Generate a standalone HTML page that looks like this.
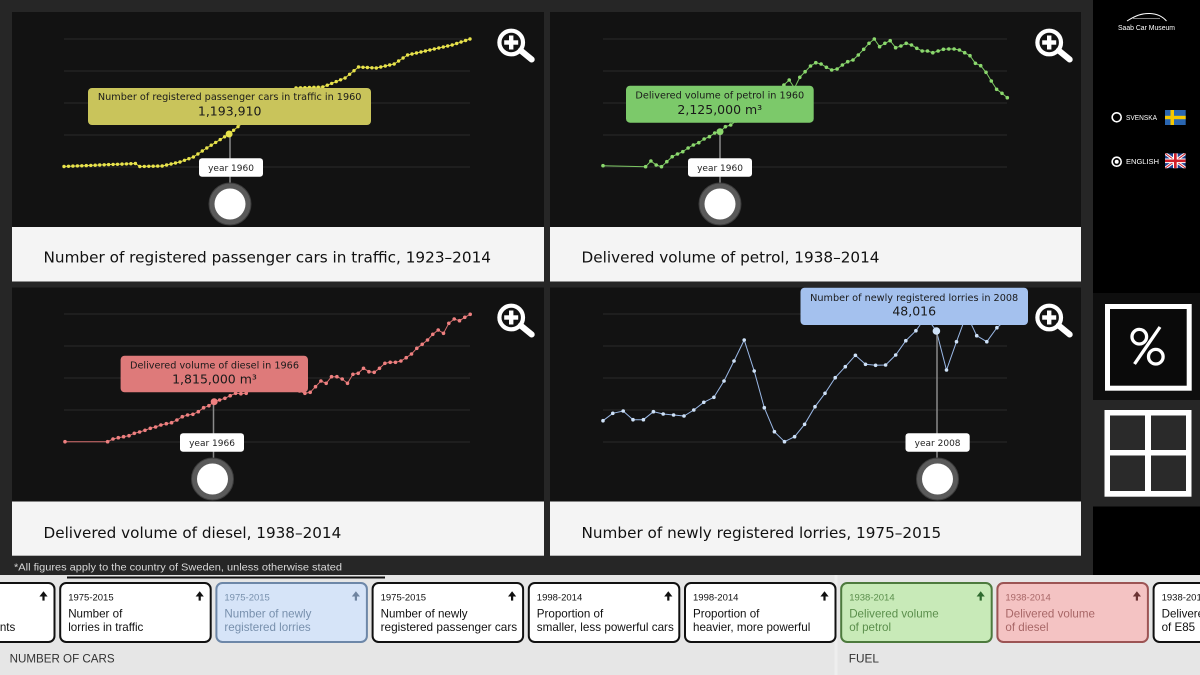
<!DOCTYPE html>
<html><head><meta charset="utf-8"><style>
html,body{margin:0;padding:0;background:#262626;}
svg{display:block;}
.dj{font-family:"DejaVu Sans","Liberation Sans",sans-serif;}
.ls{font-family:"Liberation Sans",sans-serif;}
</style></head><body>
<svg width="1200" height="675" viewBox="0 0 1200 675" xmlns="http://www.w3.org/2000/svg">
<defs>
<g id="mag"><circle r="11.8" fill="none" stroke="#fff" stroke-width="4.2"/><rect x="-7" y="-2.2" width="14" height="4.4" fill="#fff"/><rect x="-2.2" y="-7" width="4.4" height="14" fill="#fff"/><line x1="9.5" y1="8" x2="20.5" y2="17" stroke="#fff" stroke-width="6" stroke-linecap="round"/></g>
<marker id="my" markerWidth="5" markerHeight="5" refX="2.5" refY="2.5" markerUnits="userSpaceOnUse"><circle cx="2.5" cy="2.5" r="1.7" fill="#e8e34c"/></marker>
<marker id="mg" markerWidth="5" markerHeight="5" refX="2.5" refY="2.5" markerUnits="userSpaceOnUse"><circle cx="2.5" cy="2.5" r="1.8" fill="#8bd86d"/></marker>
<marker id="mr" markerWidth="5" markerHeight="5" refX="2.5" refY="2.5" markerUnits="userSpaceOnUse"><circle cx="2.5" cy="2.5" r="1.8" fill="#ee8080"/></marker>
<marker id="mb" markerWidth="5" markerHeight="5" refX="2.5" refY="2.5" markerUnits="userSpaceOnUse"><circle cx="2.5" cy="2.5" r="1.8" fill="#cfe2f8"/></marker>
<clipPath id="ukc"><rect x="1165" y="153.3" width="20.7" height="15"/></clipPath>
</defs>

<!-- main background -->
<rect x="0" y="0" width="1200" height="675" fill="#262626"/>

<!-- panels -->
<rect x="12" y="12" width="532" height="215" fill="#121212"/>
<rect x="12" y="227" width="532" height="54.5" fill="#f4f4f4"/>
<rect x="550" y="12" width="531" height="215" fill="#121212"/>
<rect x="550" y="227" width="531" height="54.5" fill="#f4f4f4"/>
<rect x="12" y="287.5" width="532" height="214" fill="#121212"/>
<rect x="12" y="501.5" width="532" height="54.2" fill="#f4f4f4"/>
<rect x="550" y="287.5" width="531" height="214" fill="#121212"/>
<rect x="550" y="501.5" width="531" height="54.2" fill="#f4f4f4"/>

<!-- grid lines -->
<g stroke="#2b2b2b" stroke-width="1">
<line x1="64" y1="39" x2="470" y2="39"/><line x1="64" y1="71" x2="470" y2="71"/><line x1="64" y1="103" x2="470" y2="103"/><line x1="64" y1="135" x2="470" y2="135"/><line x1="64" y1="167" x2="470" y2="167"/>
<line x1="603" y1="39" x2="1007" y2="39"/><line x1="603" y1="71" x2="1007" y2="71"/><line x1="603" y1="103" x2="1007" y2="103"/><line x1="603" y1="135" x2="1007" y2="135"/><line x1="603" y1="167" x2="1007" y2="167"/>
<line x1="64" y1="314" x2="470" y2="314"/><line x1="64" y1="346" x2="470" y2="346"/><line x1="64" y1="378" x2="470" y2="378"/><line x1="64" y1="410" x2="470" y2="410"/><line x1="64" y1="442" x2="470" y2="442"/>
<line x1="603" y1="314" x2="1007" y2="314"/><line x1="603" y1="346" x2="1007" y2="346"/><line x1="603" y1="378" x2="1007" y2="378"/><line x1="603" y1="410" x2="1007" y2="410"/><line x1="603" y1="442" x2="1007" y2="442"/>
</g>

<!-- series: cars -->
<polyline fill="none" stroke="#dcd745" stroke-width="1" marker-start="url(#my)" marker-mid="url(#my)" marker-end="url(#my)" points="64,166.5 68.5,166.3 72.9,166.1 77.4,165.9 81.8,165.8 86.3,165.6 90.8,165.4 95.2,165.2 99.7,165 104.2,164.8 108.6,164.6 113.1,164.4 117.5,164.3 122,164.1 126.5,163.9 130.9,163.7 135.4,163.5 139.8,166.5 144.3,166.4 148.8,166.3 153.2,166.2 157.7,166.1 162.2,166 166.6,165 171.1,164 175.5,163 180,162 184.5,160.3 188.9,158.7 193.4,157 197.9,154 202.3,151 206.8,148 211.2,145.2 215.7,142.4 220.2,139.6 224.6,136.8 229.1,134 233.6,130.3 238,126.7 242.5,123 246.9,120.4 251.4,117.8 255.9,115.2 260.3,112.6 264.8,110 269.2,106.8 273.7,103.5 278.2,100.3 282.6,97 287.1,94 291.6,91 296,88 300.5,87.8 304.9,87.7 309.4,87.5 313.9,87.3 318.3,87.2 322.8,87 327.3,85.2 331.7,83.4 336.2,81.6 340.6,79.8 345.1,78 349.6,74.3 354,70.7 358.5,67 363,67.3 367.4,67.5 371.9,67.8 376.3,68 380.8,67 385.3,66 389.7,65 394.2,64 398.6,61 403.1,58 407.6,55 412,54 416.5,53 421,52 425.4,51 429.9,50 434.3,49 438.8,48 443.3,47 447.7,46 452.2,45 456.7,43.5 461.1,42 465.6,40.5 470,39"/>

<!-- series: petrol -->
<polyline fill="none" stroke="#7cc763" stroke-width="1" marker-start="url(#mg)" marker-mid="url(#mg)" marker-end="url(#mg)" points="603,165.7 645.6,166.7 650.9,161 656.2,165 661.5,166.7 666.8,161.7 672.2,156.7 677.5,154 682.8,151.7 688.1,148 693.4,145 698.8,142.7 704.1,139 709.4,136.7 714.7,133 720,131.7 725.4,126.7 730.7,125 736,121 741.3,117 746.6,113 752,109 757.3,105 762.6,101 767.9,97 773.2,93 778.6,89 783.9,85 789.2,80 794.5,88 799.8,77.3 805.1,71.7 810.5,66 815.8,62.7 821.1,64 826.4,67.3 831.7,70 837.1,69 842.4,65 847.7,61.7 853,60 858.3,55 863.7,49.3 869,43.3 874.3,39 879.6,46.7 884.9,43.3 890.2,40.7 895.6,47.7 900.9,46 906.2,43.3 911.5,45 916.8,48.3 922.2,51 927.5,51 932.8,52.7 938.1,51 943.4,49.3 948.8,49 954.1,49 959.4,50 964.7,52.7 970,55.7 975.4,63.3 980.7,65.7 986,72.3 991.3,81 996.6,89.3 1002,93.3 1007.3,97.7"/>

<!-- series: diesel -->
<polyline fill="none" stroke="#d86f6f" stroke-width="1" marker-start="url(#mr)" marker-mid="url(#mr)" marker-end="url(#mr)" points="65,441.7 107.6,441.7 113,439 118.3,437.7 123.6,436.7 129,435.7 134.3,433.3 139.6,432 145,430.3 150.3,428.3 155.6,427 160.9,425 166.3,423.7 171.6,422.7 176.9,420 182.3,416.7 187.6,415 192.9,414.3 198.3,411.7 203.6,407.7 208.9,405.7 214.2,401.7 219.6,400 224.9,398.3 230.2,395.7 235.6,393.3 240.9,393.7 246.2,393.3 251.6,389 256.9,390 262.2,389.3 267.6,389 272.9,387.7 278.2,387.7 283.6,384 288.9,387.3 294.2,390 299.6,391 304.9,393.3 310.2,392.3 315.5,386.7 320.9,381 326.2,383.3 331.5,376.7 336.9,376.7 342.2,379 347.5,383.3 352.9,374.3 358.2,373.3 363.5,368.3 368.9,371.7 374.2,372.3 379.5,368.3 384.9,363.3 390.2,362.3 395.5,362.3 400.9,361 406.2,357.7 411.5,354 416.8,348.3 422.2,344.3 427.5,340 432.8,334.3 438.2,330 443.5,333.3 448.8,323.3 454.2,319 459.5,320.7 464.8,317.3 470.2,314.3"/>

<!-- series: lorries -->
<polyline fill="none" stroke="#9ab8e6" stroke-width="1" marker-start="url(#mb)" marker-mid="url(#mb)" marker-end="url(#mb)" points="603,420.7 612.8,413.3 623.2,411 633,419.7 643.4,419.7 653.4,411.7 663.2,414 673.6,415 684,416 693.8,410 703.8,402.3 713.9,397.3 724,381 734,361 744.2,340 754.2,371 764.3,407.7 774.4,431.7 784.5,441.7 794.6,436.7 804.6,424.3 815,406.7 825,393.3 835.2,377.7 845.3,366.7 855.4,355.3 865.5,364.3 875.6,365.3 885.6,365 895.7,355 905.8,340.7 915.9,330.7 926,316.7 936.4,331 946.5,370 956.5,341.7 966.6,314.3 976.7,335.7 986.8,341.7 996.9,327.7 1007,319"/>

<!-- connectors -->
<g stroke="#8a8a8a" stroke-width="1.5">
<line x1="230" y1="134" x2="230" y2="184"/>
<line x1="720" y1="131.7" x2="720" y2="184"/>
<line x1="213.5" y1="401.7" x2="213.5" y2="459"/>
<line x1="937" y1="331" x2="937" y2="459"/>
</g>

<!-- highlighted points -->
<circle cx="229.1" cy="134" r="3.5" fill="#e8e34c"/>
<circle cx="720" cy="131.7" r="3.5" fill="#8bd86d"/>
<circle cx="214.2" cy="401.7" r="3.5" fill="#ee8080"/>
<circle cx="936.4" cy="331" r="3.8" fill="#cfe2f8"/>

<!-- handle circles -->
<g>
<circle cx="230" cy="204" r="21" fill="#5a5a5a" stroke="#3c3c3c" stroke-width="1"/><circle cx="230" cy="204" r="15.5" fill="#fff"/>
<circle cx="720" cy="204" r="21" fill="#5a5a5a" stroke="#3c3c3c" stroke-width="1"/><circle cx="720" cy="204" r="15.5" fill="#fff"/>
<circle cx="212.5" cy="479" r="21" fill="#5a5a5a" stroke="#3c3c3c" stroke-width="1"/><circle cx="212.5" cy="479" r="15.5" fill="#fff"/>
<circle cx="937.5" cy="479" r="21" fill="#5a5a5a" stroke="#3c3c3c" stroke-width="1"/><circle cx="937.5" cy="479" r="15.5" fill="#fff"/>
</g>

<!-- year labels -->
<g class="dj" font-size="9" fill="#222" text-anchor="middle">
<rect x="199" y="158.3" width="64" height="18.5" rx="3" fill="#fff"/><text x="231" y="171">year 1960</text>
<rect x="688" y="158.3" width="64" height="18.5" rx="3" fill="#fff"/><text x="720" y="171">year 1960</text>
<rect x="180" y="433.3" width="64" height="18.5" rx="3" fill="#fff"/><text x="212" y="446">year 1966</text>
<rect x="905.5" y="433.3" width="64.2" height="18.5" rx="3" fill="#fff"/><text x="937.6" y="446">year 2008</text>
</g>

<!-- tooltips -->
<g class="dj" fill="#1a1a1a" text-anchor="middle">
<rect x="88" y="88" width="283" height="37" rx="4" fill="#c9c45b"/>
<text x="229.7" y="100" font-size="9.7">Number of registered passenger cars in traffic in 1960</text>
<text x="229.7" y="115.6" font-size="12.5">1,193,910</text>
<rect x="626" y="85.7" width="187.7" height="37" rx="4" fill="#7cc96a"/>
<text x="719.8" y="98.4" font-size="9.7">Delivered volume of petrol in 1960</text>
<text x="719.8" y="114" font-size="12.5">2,125,000 m³</text>
<rect x="120.6" y="355.7" width="187.4" height="36.6" rx="4" fill="#de7a7a"/>
<text x="214.5" y="368.3" font-size="9.7">Delivered volume of diesel in 1966</text>
<text x="214.5" y="383.3" font-size="12.5">1,815,000 m³</text>
<rect x="800.5" y="287.7" width="227.5" height="37.3" rx="4" fill="#a4c1ee"/>
<text x="914.2" y="300.8" font-size="9.7">Number of newly registered lorries in 2008</text>
<text x="914.2" y="315.6" font-size="12.5">48,016</text>
</g>

<!-- magnifiers -->
<use href="#mag" x="511.2" y="42.5"/>
<use href="#mag" x="1049.2" y="42.5"/>
<use href="#mag" x="511.2" y="317.5"/>
<use href="#mag" x="1049.2" y="317.5"/>

<!-- captions -->
<g class="dj" font-size="15.2" fill="#111">
<text x="43.5" y="262.4" textLength="447.5" lengthAdjust="spacingAndGlyphs">Number of registered passenger cars in traffic, 1923–2014</text>
<text x="581.5" y="262.4" textLength="298" lengthAdjust="spacingAndGlyphs">Delivered volume of petrol, 1938–2014</text>
<text x="43.5" y="538" textLength="297.8" lengthAdjust="spacingAndGlyphs">Delivered volume of diesel, 1938–2014</text>
<text x="581.5" y="538" textLength="359.7" lengthAdjust="spacingAndGlyphs">Number of newly registered lorries, 1975–2015</text>
</g>

<!-- footnote -->
<text class="ls" x="14" y="570.3" font-size="10.2" fill="#d8d8d8" textLength="328" lengthAdjust="spacingAndGlyphs">*All figures apply to the country of Sweden, unless otherwise stated</text>

<!-- sidebar -->
<rect x="1093" y="0" width="107" height="293" fill="#000"/>
<rect x="1093" y="293" width="107" height="107" fill="#0e0e0e"/>
<rect x="1093" y="400" width="107" height="106.5" fill="#262626"/>
<rect x="1093" y="506.5" width="107" height="70" fill="#000"/>
<path d="M1127,21 C1135,16 1141,13.2 1150,13.5 C1158,13.8 1163,17 1166.5,21" fill="none" stroke="#fff" stroke-width="1"/>
<path d="M1133,18.5 L1160,18.5" fill="none" stroke="#fff" stroke-width="0.6"/>
<text class="ls" x="1118" y="30.2" font-size="7" fill="#fff" textLength="57" lengthAdjust="spacingAndGlyphs">Saab Car Museum</text>
<circle cx="1116.7" cy="117.3" r="4.5" fill="none" stroke="#fff" stroke-width="1.6"/>
<text class="ls" x="1126" y="119.8" font-size="7" fill="#fff" textLength="31" lengthAdjust="spacingAndGlyphs">SVENSKA</text>
<rect x="1165" y="110" width="20.7" height="15" fill="#2a66b1"/>
<rect x="1170.5" y="110" width="3.5" height="15" fill="#f6c800"/>
<rect x="1165" y="115.8" width="20.7" height="3.4" fill="#f6c800"/>
<circle cx="1116.7" cy="161.7" r="4.5" fill="none" stroke="#fff" stroke-width="1.6"/>
<circle cx="1116.7" cy="161.7" r="2" fill="#fff"/>
<text class="ls" x="1126" y="164.2" font-size="7" fill="#fff" textLength="33" lengthAdjust="spacingAndGlyphs">ENGLISH</text>
<g clip-path="url(#ukc)">
<rect x="1165" y="153.3" width="20.7" height="15" fill="#1f3f8f"/>
<line x1="1165" y1="153.3" x2="1185.7" y2="168.3" stroke="#fff" stroke-width="3"/>
<line x1="1185.7" y1="153.3" x2="1165" y2="168.3" stroke="#fff" stroke-width="3"/>
<line x1="1165" y1="153.3" x2="1185.7" y2="168.3" stroke="#cf1f2b" stroke-width="1"/>
<line x1="1185.7" y1="153.3" x2="1165" y2="168.3" stroke="#cf1f2b" stroke-width="1"/>
<rect x="1173" y="153.3" width="4.7" height="15" fill="#fff"/>
<rect x="1165" y="158.5" width="20.7" height="4.6" fill="#fff"/>
<rect x="1174" y="153.3" width="2.7" height="15" fill="#cf1f2b"/>
<rect x="1165" y="159.5" width="20.7" height="2.6" fill="#cf1f2b"/>
</g>
<!-- percent button -->
<rect x="1107.5" y="306.5" width="81.7" height="81.7" fill="#0a0a0a" stroke="#fff" stroke-width="5"/>
<circle cx="1139.3" cy="336.7" r="7.3" fill="none" stroke="#fff" stroke-width="3.3"/>
<circle cx="1155.8" cy="356.7" r="7.3" fill="none" stroke="#fff" stroke-width="3.3"/>
<line x1="1160" y1="327" x2="1134.5" y2="364" stroke="#fff" stroke-width="3.3"/>
<!-- grid button -->
<rect x="1104.5" y="410" width="87" height="86.7" fill="#fff"/>
<rect x="1110" y="415.5" width="35" height="34.5" fill="#2a2a2a"/>
<rect x="1151" y="415.5" width="35" height="34.5" fill="#2a2a2a"/>
<rect x="1110" y="455.5" width="35" height="35.5" fill="#2a2a2a"/>
<rect x="1151" y="455.5" width="35" height="35.5" fill="#2a2a2a"/>

<!-- bottom strip -->
<rect x="0" y="575" width="1200" height="100" fill="#e6e6e6"/>
<rect x="834.5" y="575" width="3" height="100" fill="#eeeeee"/>
<rect x="67" y="576.5" width="318" height="2" fill="#111"/>

<!-- cards -->
<g class="ls">
<!-- card1 -->
<rect x="-96" y="583" width="150.5" height="59" rx="6" fill="#fff" stroke="#111" stroke-width="2"/>
<polygon points="43.5,591.3 47.6,596.5 39.4,596.5" fill="#111"/><rect x="42.4" y="596" width="2.2" height="4.6" fill="#111"/>
<text x="15.3" y="631" font-size="11.6" fill="#111" text-anchor="end">nts</text>
<!-- card2 -->
<rect x="60.2" y="583" width="150.5" height="59" rx="6" fill="#fff" stroke="#111" stroke-width="2"/>
<polygon points="199.7,591.3 203.8,596.5 195.6,596.5" fill="#111"/><rect x="198.6" y="596" width="2.2" height="4.6" fill="#111"/>
<text x="68.2" y="600.7" font-size="9.5" fill="#111">1975-2015</text>
<text x="68.2" y="617.7" font-size="11.6" fill="#111">Number of</text>
<text x="68.2" y="631" font-size="11.6" fill="#111">lorries in traffic</text>
<!-- card3 blue -->
<rect x="216.4" y="583" width="150.5" height="59" rx="6" fill="#d6e4f8" stroke="#6d87a8" stroke-width="2"/>
<polygon points="355.9,591.3 360,596.5 351.8,596.5" fill="#6f84a0"/><rect x="354.8" y="596" width="2.2" height="4.6" fill="#6f84a0"/>
<text x="224.4" y="600.7" font-size="9.5" fill="#7890ad">1975-2015</text>
<text x="224.4" y="617.7" font-size="11.6" fill="#7890ad">Number of newly</text>
<text x="224.4" y="631" font-size="11.6" fill="#7890ad">registered lorries</text>
<!-- card4 -->
<rect x="372.6" y="583" width="150.5" height="59" rx="6" fill="#fff" stroke="#111" stroke-width="2"/>
<polygon points="512.1,591.3 516.2,596.5 508,596.5" fill="#111"/><rect x="511" y="596" width="2.2" height="4.6" fill="#111"/>
<text x="380.6" y="600.7" font-size="9.5" fill="#111">1975-2015</text>
<text x="380.6" y="617.7" font-size="11.6" fill="#111">Number of newly</text>
<text x="380.6" y="631" font-size="11.6" fill="#111" textLength="136.6" lengthAdjust="spacingAndGlyphs">registered passenger cars</text>
<!-- card5 -->
<rect x="528.8" y="583" width="150.5" height="59" rx="6" fill="#fff" stroke="#111" stroke-width="2"/>
<polygon points="668.3,591.3 672.4,596.5 664.2,596.5" fill="#111"/><rect x="667.2" y="596" width="2.2" height="4.6" fill="#111"/>
<text x="536.8" y="600.7" font-size="9.5" fill="#111">1998-2014</text>
<text x="536.8" y="617.7" font-size="11.6" fill="#111">Proportion of</text>
<text x="536.8" y="631" font-size="11.6" fill="#111" textLength="137" lengthAdjust="spacingAndGlyphs">smaller, less powerful cars</text>
<!-- card6 -->
<rect x="685" y="583" width="150.5" height="59" rx="6" fill="#fff" stroke="#111" stroke-width="2"/>
<polygon points="824.5,591.3 828.6,596.5 820.4,596.5" fill="#111"/><rect x="823.4" y="596" width="2.2" height="4.6" fill="#111"/>
<text x="693" y="600.7" font-size="9.5" fill="#111">1998-2014</text>
<text x="693" y="617.7" font-size="11.6" fill="#111">Proportion of</text>
<text x="693" y="631" font-size="11.6" fill="#111">heavier, more powerful</text>
<!-- card7 green -->
<rect x="841.2" y="583" width="150.5" height="59" rx="6" fill="#c8eab8" stroke="#4d7a3d" stroke-width="2"/>
<polygon points="980.7,591.3 984.8,596.5 976.6,596.5" fill="#2e6a2e"/><rect x="979.6" y="596" width="2.2" height="4.6" fill="#2e6a2e"/>
<text x="849.2" y="600.7" font-size="9.5" fill="#5b8f4c">1938-2014</text>
<text x="849.2" y="617.7" font-size="11.6" fill="#5b8f4c">Delivered volume</text>
<text x="849.2" y="631" font-size="11.6" fill="#5b8f4c">of petrol</text>
<!-- card8 red -->
<rect x="997.4" y="583" width="150.5" height="59" rx="6" fill="#f4c3c3" stroke="#9c5454" stroke-width="2"/>
<polygon points="1136.9,591.3 1141,596.5 1132.8,596.5" fill="#6a3232"/><rect x="1135.8" y="596" width="2.2" height="4.6" fill="#6a3232"/>
<text x="1005.4" y="600.7" font-size="9.5" fill="#a86767">1938-2014</text>
<text x="1005.4" y="617.7" font-size="11.6" fill="#a86767">Delivered volume</text>
<text x="1005.4" y="631" font-size="11.6" fill="#a86767">of diesel</text>
<!-- card9 -->
<rect x="1153.6" y="583" width="150.5" height="59" rx="6" fill="#fff" stroke="#111" stroke-width="2"/>
<text x="1161.6" y="600.7" font-size="9.5" fill="#111">1938-2014</text>
<text x="1161.6" y="617.7" font-size="11.6" fill="#111">Delivered volume</text>
<text x="1161.6" y="631" font-size="11.6" fill="#111">of E85</text>
</g>

<!-- section labels -->
<text class="ls" x="9.6" y="662.3" font-size="11.8" fill="#333" textLength="105" lengthAdjust="spacingAndGlyphs">NUMBER OF CARS</text>
<text class="ls" x="848.8" y="662.3" font-size="11.8" fill="#333">FUEL</text>
</svg>
</body></html>
